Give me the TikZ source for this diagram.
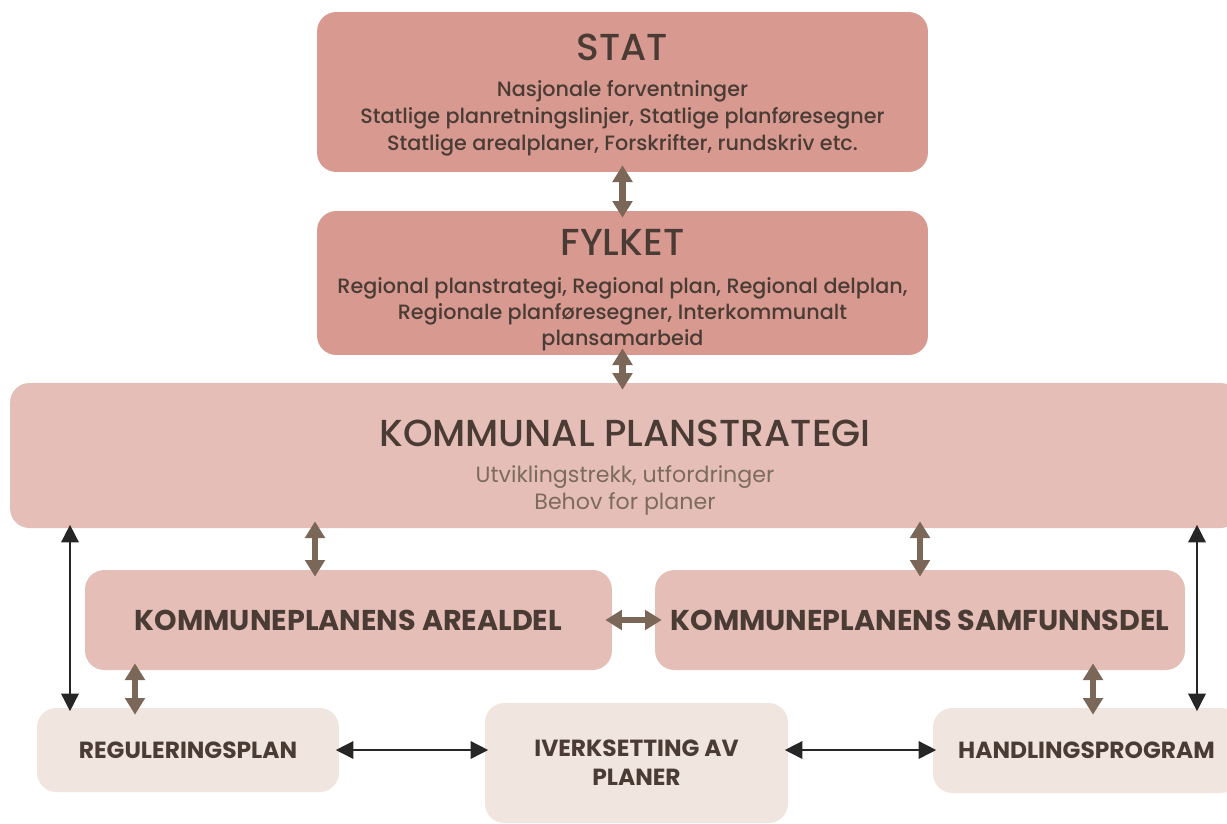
\documentclass[tikz,border=0pt]{standalone}
\usepackage{fontspec}
\setmainfont{Poppins}
\newfontfamily\medfont{Poppins Medium}
\usetikzlibrary{arrows.meta}

\definecolor{statrose}{HTML}{D89A90}
\definecolor{kommrose}{HTML}{E6BEB8}
\definecolor{sand}{HTML}{F0E6DF}
\definecolor{mudbrown}{HTML}{7A6758}
\definecolor{darktext}{HTML}{4A3C35}
\definecolor{softtext}{HTML}{7D6B5E}

\newcommand{\headfont}{\medfont\fontsize{21.4}{26}\selectfont}
\newcommand{\bodyfont}{\medfont\fontsize{11.8}{15.5}\selectfont}
\newcommand{\tightfont}{\medfont\fontsize{11.8}{14.8}\selectfont}
\newcommand{\subfont}{\fontsize{12.6}{15.5}\selectfont}
\newcommand{\midfont}{\bfseries\fontsize{16.3}{20}\selectfont}
\newcommand{\lowfont}{\bfseries\fontsize{13.3}{16.5}\selectfont}

\begin{document}
\begin{tikzpicture}[x=0.02cm, y=-0.02cm,
  box/.style={rounded corners=11pt, text=darktext, align=center, inner sep=0pt},
  brownarr/.style={mudbrown, line width=3.8pt, {Triangle[width=11pt,length=9.5pt]}-{Triangle[width=11pt,length=9.5pt]},
    shorten <=-4pt, shorten >=-4pt},
  blackarr/.style={black!85, line width=0.9pt, {Triangle[width=10pt,length=10pt]}-{Triangle[width=10pt,length=10pt]},
    shorten <=-2pt, shorten >=-2pt}]
\clip (0,0) rectangle (1227,823);
\fill[white] (0,0) rectangle (1227,823);

% boxes
\node (stat) [box, fill=statrose, font=\bodyfont, minimum width=12.22cm, minimum height=3.2cm] at (622.5,92)
  {{\headfont\rule{0pt}{19pt}STAT}\\[4.8pt]
   Nasjonale forventninger\\
   Statlige planretningslinjer, Statlige planføresegner\\
   Statlige arealplaner, Forskrifter, rundskriv etc.};
\node (fylke) [box, fill=statrose, font=\tightfont, minimum width=12.22cm, minimum height=2.88cm] at (622.5,283)
  {{\headfont\rule{0pt}{23pt}FYLKET}\\[6.5pt]
   Regional planstrategi, Regional plan, Regional delplan,\\
   Regionale planføresegner, Interkommunalt\\
   plansamarbeid};
\node (komm) [box, fill=kommrose, font=\subfont, minimum width=24.6cm, minimum height=2.9cm] at (625,455.5)
  {{\headfont\rule{0pt}{28.5pt}KOMMUNAL PLANSTRATEGI}\\[5pt]
   \color{softtext}Utviklingstrekk, utfordringer\\
   \color{softtext}Behov for planer};
\node (areal) [box, fill=kommrose, font=\midfont, minimum width=10.54cm, minimum height=2cm] at (348.5,620)
  {KOMMUNEPLANENS AREALDEL};
\node (samf) [box, fill=kommrose, font=\midfont, minimum width=10.6cm, minimum height=2cm] at (920,620)
  {KOMMUNEPLANENS SAMFUNNSDEL};
\node (regul) [box, fill=sand, font=\lowfont, minimum width=6.04cm, minimum height=1.68cm] at (188,750)
  {REGULERINGSPLAN};
\node (iverk) [box, fill=sand, font=\lowfont, minimum width=6.06cm, minimum height=2.4cm] at (636.5,763)
  {IVERKSETTING AV\\ PLANER};
\node (handl) [box, fill=sand, font=\lowfont, minimum width=6.14cm, minimum height=1.7cm] at (1086.5,750.5)
  {HANDLINGSPROGRAM};

% x positions of the vertical arrows
\coordinate (xa) at (315,0);
\coordinate (xs) at (920,0);
\coordinate (xr) at (135,0);
\coordinate (xh) at (1093,0);
\coordinate (xl) at (70,0);
\coordinate (xe) at (1197,0);

% arrows
\draw[brownarr] (stat) -- (fylke);
\draw[brownarr] (fylke.south) -- (fylke.south |- komm.north);
\draw[brownarr] (komm.south -| xa) -- (areal.north -| xa);
\draw[brownarr] (komm.south -| xs) -- (samf.north -| xs);
\draw[brownarr] (areal) -- (samf);
\draw[brownarr] (areal.south -| xr) -- (regul.north -| xr);
\draw[brownarr] (samf.south -| xh) -- (handl.north -| xh);
\draw[blackarr] (komm.south -| xl) -- (regul.north -| xl);
\draw[blackarr] (komm.south -| xe) -- (handl.north -| xe);
\draw[blackarr] (regul.east) -- (regul.east -| iverk.west);
\draw[blackarr] (regul.east -| iverk.east) -- (regul.east -| handl.west);
\end{tikzpicture}
\end{document}
